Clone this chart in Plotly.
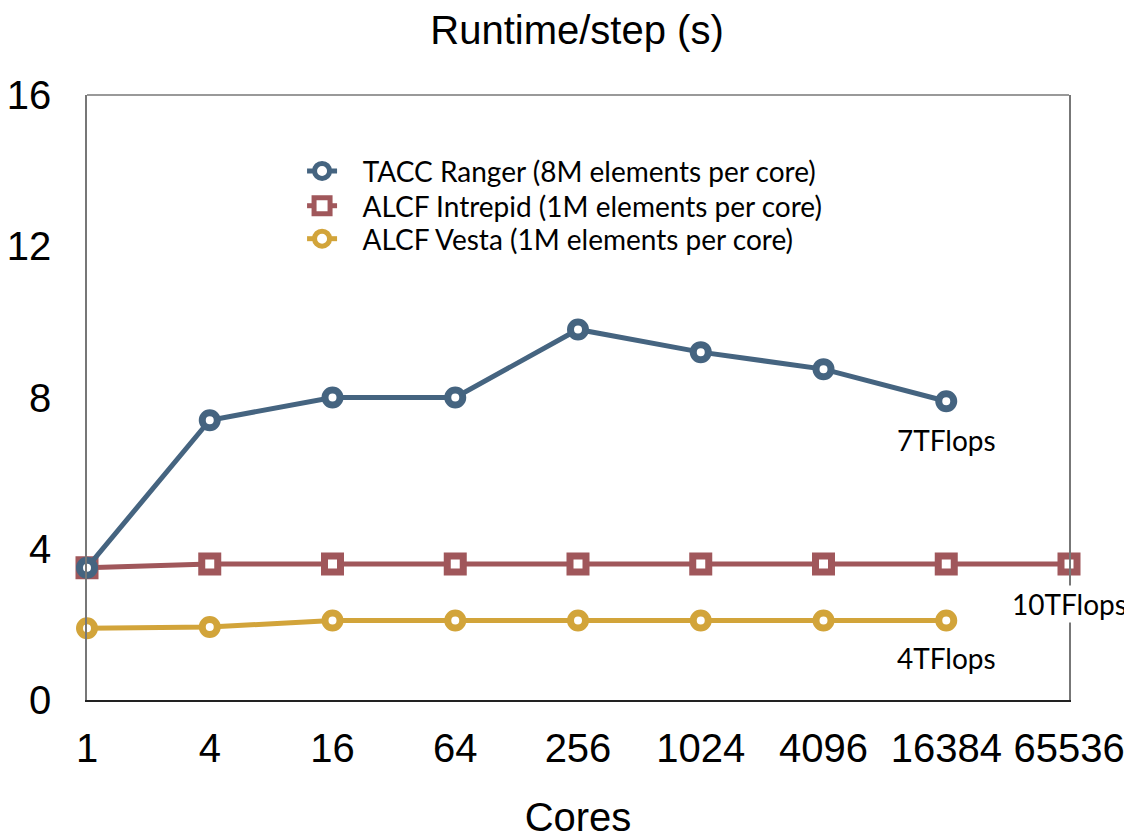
import math
import plotly.graph_objects as go

cores = [1, 4, 16, 64, 256, 1024, 4096, 16384, 65536]
tick_labels = ["1", "4", "16", "64", "256", "1024", "4096", "16384", "65536"]

ranger_cores = [1, 4, 16, 64, 256, 1024, 4096, 16384]
ranger_vals = [3.5, 7.4, 8.0, 8.0, 9.8, 9.2, 8.75, 7.9]

intrepid_cores = [1, 4, 16, 64, 256, 1024, 4096, 16384, 65536]
intrepid_vals = [3.5, 3.6, 3.6, 3.6, 3.6, 3.6, 3.6, 3.6, 3.6]

vesta_cores = [1, 4, 16, 64, 256, 1024, 4096, 16384]
vesta_vals = [1.9, 1.93, 2.1, 2.1, 2.1, 2.1, 2.1, 2.1]

names = ["TACC Ranger (8M elements per core)",
         "ALCF Intrepid (1M elements per core)",
         "ALCF Vesta (1M elements per core)"]
colors = ["#456480", "#A0575B", "#D2A43A"]
legend_ids = ["legend", "legend2", "legend3"]
legend_rows = [0.874, 0.8165, 0.762]

fig = go.Figure()
series = [(ranger_cores, ranger_vals, "circle", 15), (intrepid_cores, intrepid_vals, "square", 16),
          (vesta_cores, vesta_vals, "circle", 15)]
order = [1, 2, 0]  # draw order: intrepid, vesta, ranger on top
traces = {}
for i, (xs, ys, sym, sz) in enumerate(series):
    traces[i] = go.Scatter(
        x=xs, y=ys, name="\u00a0\u00a0\u00a0" + names[i], mode="lines+markers",
        line=dict(color=colors[i], width=5),
        marker=dict(symbol=sym, size=sz, color="white", line=dict(color=colors[i], width=7)),
        cliponaxis=False, legend=legend_ids[i],
    )
for i in order:
    fig.add_trace(traces[i])

axis_font = dict(family="Liberation Sans, Arial, sans-serif", size=40, color="black")
ann_font = dict(family="Lato, sans-serif", size=28, color="black")
leg_font = dict(family="Lato, sans-serif", size=28, color="black")

# page body has an 8px margin, so the figure is sized/offset to compensate
W, H = 1124, 831
legends = {}
for lid, ly in zip(legend_ids, legend_rows):
    legends[lid] = dict(x=0.219, y=ly, xanchor="left", yanchor="middle",
                        bgcolor="rgba(0,0,0,0)", font=leg_font)

fig.update_layout(
    width=W, height=H,
    margin=dict(l=79, r=63, t=87, b=139),
    paper_bgcolor="white", plot_bgcolor="white",
    title=dict(text="Runtime/step (s)", font=axis_font, x=569 / W, xanchor="center",
               y=1 - 22 / H, yanchor="middle", yref="container"),
    xaxis=dict(type="log", range=[0, math.log10(65536)], tickvals=cores, ticktext=tick_labels,
               showgrid=False, zeroline=False, showline=True, linecolor="#222", linewidth=1.5,
               ticks="outside", ticklen=12, tickcolor="rgba(0,0,0,0)", tickfont=axis_font,
               automargin=False,
               title=dict(text="Cores", font=axis_font, standoff=38)),
    yaxis=dict(range=[0, 16], tickvals=[0, 4, 8, 12, 16], showgrid=False, zeroline=False,
               showline=True, linecolor="#777", linewidth=1.5, mirror=True, automargin=False,
               ticks="outside", ticklen=26, tickcolor="rgba(0,0,0,0)", tickfont=axis_font),
    showlegend=True,
    **legends,
)
fig.add_shape(type="line", xref="paper", yref="paper", x0=0, x1=1, y0=1, y1=1,
              line=dict(color="#777", width=1.5), layer="below")

fig.add_annotation(x=math.log10(16384), y=6.88, xref="x", yref="y", text="7TFlops",
                   showarrow=False, font=ann_font)
fig.add_annotation(x=math.log10(65536), y=2.54, xref="x", yref="y", text="10TFlops",
                   showarrow=False, font=ann_font, bgcolor="white")
fig.add_annotation(x=math.log10(16384), y=1.11, xref="x", yref="y", text="4TFlops",
                   showarrow=False, font=ann_font)

fig.write_html("out.html")
